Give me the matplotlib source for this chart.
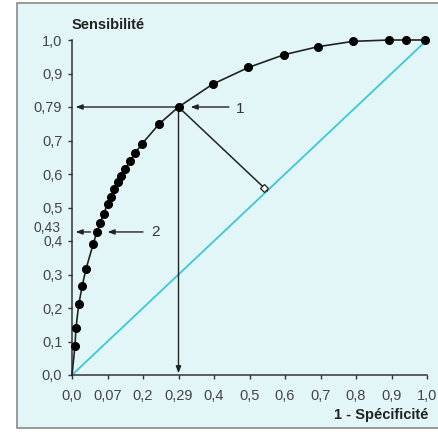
import matplotlib
matplotlib.use('Agg')
import matplotlib.pyplot as plt
from matplotlib.patches import Rectangle
import numpy as np

plt.rcParams['font.family'] = ['Liberation Sans', 'DejaVu Sans']

# points of the ROC curve, read on the drawn grid
fpr = [0.0, 0.0085, 0.011, 0.019, 0.029, 0.039, 0.060, 0.070, 0.080, 0.089,
       0.100, 0.110, 0.119, 0.129, 0.139, 0.149, 0.164, 0.177, 0.198, 0.246,
       0.300, 0.396, 0.497, 0.597, 0.693, 0.792, 0.894, 0.942, 0.994]
tpr = [0.0, 0.088, 0.139, 0.211, 0.267, 0.315, 0.392, 0.427, 0.455, 0.482,
       0.509, 0.532, 0.554, 0.576, 0.594, 0.614, 0.639, 0.662, 0.691, 0.750,
       0.800, 0.868, 0.918, 0.956, 0.980, 0.996, 1.000, 1.000, 1.000]

x_ticks = [0.0, 0.1, 0.2, 0.3, 0.4, 0.5, 0.6, 0.7, 0.8, 0.9, 1.0]
x_labels = ['0,0', '0,07', '0,2', '0,29', '0,4', '0,5', '0,6', '0,7', '0,8', '0,9', '1,0']
y_ticks = [0.0, 0.1, 0.2, 0.3, 0.4, 0.5, 0.6, 0.7, 0.8, 0.9, 1.0]
y_labels = ['0,0', '0,1', '0,2', '0,3', '0,4', '0,5', '0,6', '0,7', '0,79', '0,9', '1,0']

pt1 = (0.300, 0.800)   # point 1
pt2 = (0.070, 0.427)   # point 2

W = 438
fig = plt.figure(figsize=(4.38, 4.38), dpi=100, facecolor='white')

# panel background
bg = Rectangle((17 / W, 10 / W), 1.0, (428 - 3) / W, transform=fig.transFigure,
               facecolor='#e3f6f7', edgecolor='#8a8a8a', linewidth=1.2, zorder=-10)
fig.patches.append(bg)

ax = fig.add_axes([72 / W, 63 / W, 355 / W, 335 / W])
ax.set_zorder(5)
ax.set_facecolor('none')
ax.set_xlim(0, 1)
ax.set_ylim(0, 1)
for s in ['top', 'right']:
    ax.spines[s].set_visible(False)
for s in ['left', 'bottom']:
    ax.spines[s].set_color('#333333')
    ax.spines[s].set_linewidth(1.1)

ax.set_xticks(x_ticks)
ax.set_xticklabels(x_labels)
ax.set_yticks(y_ticks)
ax.set_yticklabels(y_labels)
ax.tick_params(direction='out', length=3, width=1, color='#333333',
               labelsize=10.5, labelcolor='#444444')
ax.tick_params(axis='x', pad=7)
ax.tick_params(axis='y', pad=4)
for lbl in ax.get_yticklabels():
    if lbl.get_text() == '0,4':
        lbl.set_fontsize(10)

# diagonal
ax.plot([0, 1], [0, 1], color='#3cc8d8', lw=1.3, zorder=2, clip_on=False)

# curve
ax.plot(fpr, tpr, color='#222222', lw=1.2, zorder=3, clip_on=False)
ax.plot(fpr[1:], tpr[1:], 'o', color='black', ms=5.5, zorder=4, clip_on=False)

arrow = dict(arrowstyle='-|>,head_length=0.4,head_width=0.15', color='#222222', lw=1.0,
             shrinkA=0, shrinkB=0)

# point 1: projections
ax.annotate('', xy=(0.01, pt1[1]), xytext=pt1, arrowprops=arrow, zorder=3)
ax.annotate('', xy=(pt1[0], 0.005), xytext=pt1, arrowprops=arrow, zorder=3)
ax.annotate('', xy=(0.334, pt1[1]), xytext=(0.442, pt1[1]), arrowprops=arrow)
ax.text(0.462, pt1[1] - 0.005, '1', ha='left', va='center', fontsize=11, color='#333333')

# perpendicular to the diagonal
foot = (pt1[0] + pt1[1]) / 2
ax.plot([pt1[0], foot], [pt1[1], foot], color='#222222', lw=1.1, zorder=3)
ax.plot([foot - 0.008], [foot + 0.008], marker='D', ms=4.5, mfc='white',
        mec='#222222', mew=0.9, zorder=5)

# point 2
ax.annotate('', xy=(0.01, pt2[1]), xytext=(0.052, pt2[1]), arrowprops=arrow)
ax.annotate('', xy=(0.1, pt2[1]), xytext=(0.2, pt2[1]), arrowprops=arrow)
ax.text(0.222, pt2[1], '2', ha='left', va='center', fontsize=11, color='#333333')
ax.text(-0.033, pt2[1] + 0.012, '0,43', ha='right', va='center', fontsize=10,
        color='#444444')

ax.text(0.0, 1.045, 'Sensibilité', ha='left', va='center', fontsize=10.5,
        fontweight='bold', color='#222222')
ax.text(1.005, -0.12, '1 - Spécificité', ha='right', va='center', fontsize=10.5,
        fontweight='bold', color='#222222')

fig.savefig('out.png', dpi=100, facecolor='white')
